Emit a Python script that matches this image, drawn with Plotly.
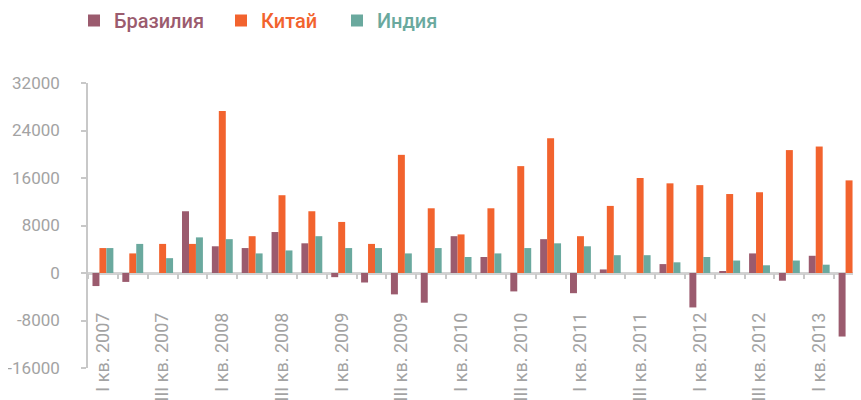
import plotly.graph_objects as go

quarters = []
for yr in range(2007, 2014):
    for q in ["I", "II", "III", "IV"]:
        quarters.append(f"{q} кв. {yr}")
quarters = quarters[:26]

brazil = [-2200, -1500, None, 10400, 4500, 4200, 6900, 5000, -700, -1600, -3600, -5000, 6200,
          2700, -3100, 5700, -3400, 600, None, 1500, -5800, 300, 3300, -1300, 2900, -10700]
china = [4200, 3300, 4900, 4900, 27300, 6200, 13100, 10400, 8600, 4900, 19900, 10900, 6500,
         10900, 18000, 22700, 6200, 11300, 16000, 15100, 14800, 13300, 13600, 20700, 21300, 15600]
india = [4200, 4900, 2500, 6000, 5700, 3300, 3800, 6200, 4200, 4200, 3300, 4200, 2700,
         3300, 4200, 5000, 4500, 3000, 3000, 1800, 2700, 2100, 1300, 2100, 1400, None]

y_ticks = [-16000, -8000, 0, 8000, 16000, 24000, 32000]

series = [("Бразилия", brazil, "#9b5b6e"), ("Китай", china, "#f2632e"), ("Индия", india, "#6aa99e")]

W, H = 853, 392  # page adds an 8px body margin
legend_left_px = [66, 213, 329]
legend_mid_px = 12.5

xs = list(range(len(quarters)))
fig = go.Figure()
legend_ids = ["legend", "legend2", "legend3"]
for (name, vals, col), lid in zip(series, legend_ids):
    fig.add_trace(go.Bar(x=xs, y=vals, name=name, marker=dict(color=col, line=dict(width=0)),
                         hovertext=quarters, legend=lid))

tickvals = xs[::2]
ticktext = quarters[::2]

legend_cfg = {}
for (name, vals, col), lid, lx in zip(series, legend_ids, legend_left_px):
    legend_cfg[lid] = dict(orientation="h", x=lx / W, xanchor="left",
                           y=1 - legend_mid_px / H, yanchor="middle",
                           xref="container", yref="container",
                           font=dict(size=20, weight=500, color=col),
                           itemclick=False, bgcolor="rgba(0,0,0,0)", borderwidth=0)

fig.update_layout(
    template="none",
    width=W, height=H,
    margin=dict(l=80, r=0, t=75, b=32, autoexpand=False),
    paper_bgcolor="white", plot_bgcolor="white",
    barmode="group", bargap=0.3, bargroupgap=0,
    font=dict(family="Roboto, 'Open Sans', sans-serif", color="#a3a3a3", size=17),
    showlegend=True,
    xaxis=dict(
        range=[-0.5, 25.4], showgrid=False, zeroline=False, showline=False,
        anchor="free", position=1/3,
        tickmode="array", tickvals=tickvals, ticktext=ticktext,
        tickangle=-90, ticks="", ticklabelstandoff=35,
        tickfont=dict(size=18, color="#a3a3a3"),
        minor=dict(tickmode="linear", tick0=0.5, dtick=1, ticks="outside", ticklen=5,
                   tickcolor="#c8c8c8", tickwidth=1.5, showgrid=False),
        automargin=False, fixedrange=True,
    ),
    yaxis=dict(
        range=[-16000, 32000], tickvals=y_ticks, ticktext=[str(v) for v in y_ticks],
        showgrid=False, showline=True, linecolor="#c8c8c8", linewidth=1.5,
        ticks="outside", ticklen=5, tickcolor="#c8c8c8", tickwidth=1.5,
        zeroline=True, zerolinecolor="#d2d2d2", zerolinewidth=2.5,
        ticklabelstandoff=18, tickfont=dict(size=17, color="#a3a3a3"),
        automargin=False, fixedrange=True,
    ),
    **legend_cfg,
)

fig.write_html("out.html")
